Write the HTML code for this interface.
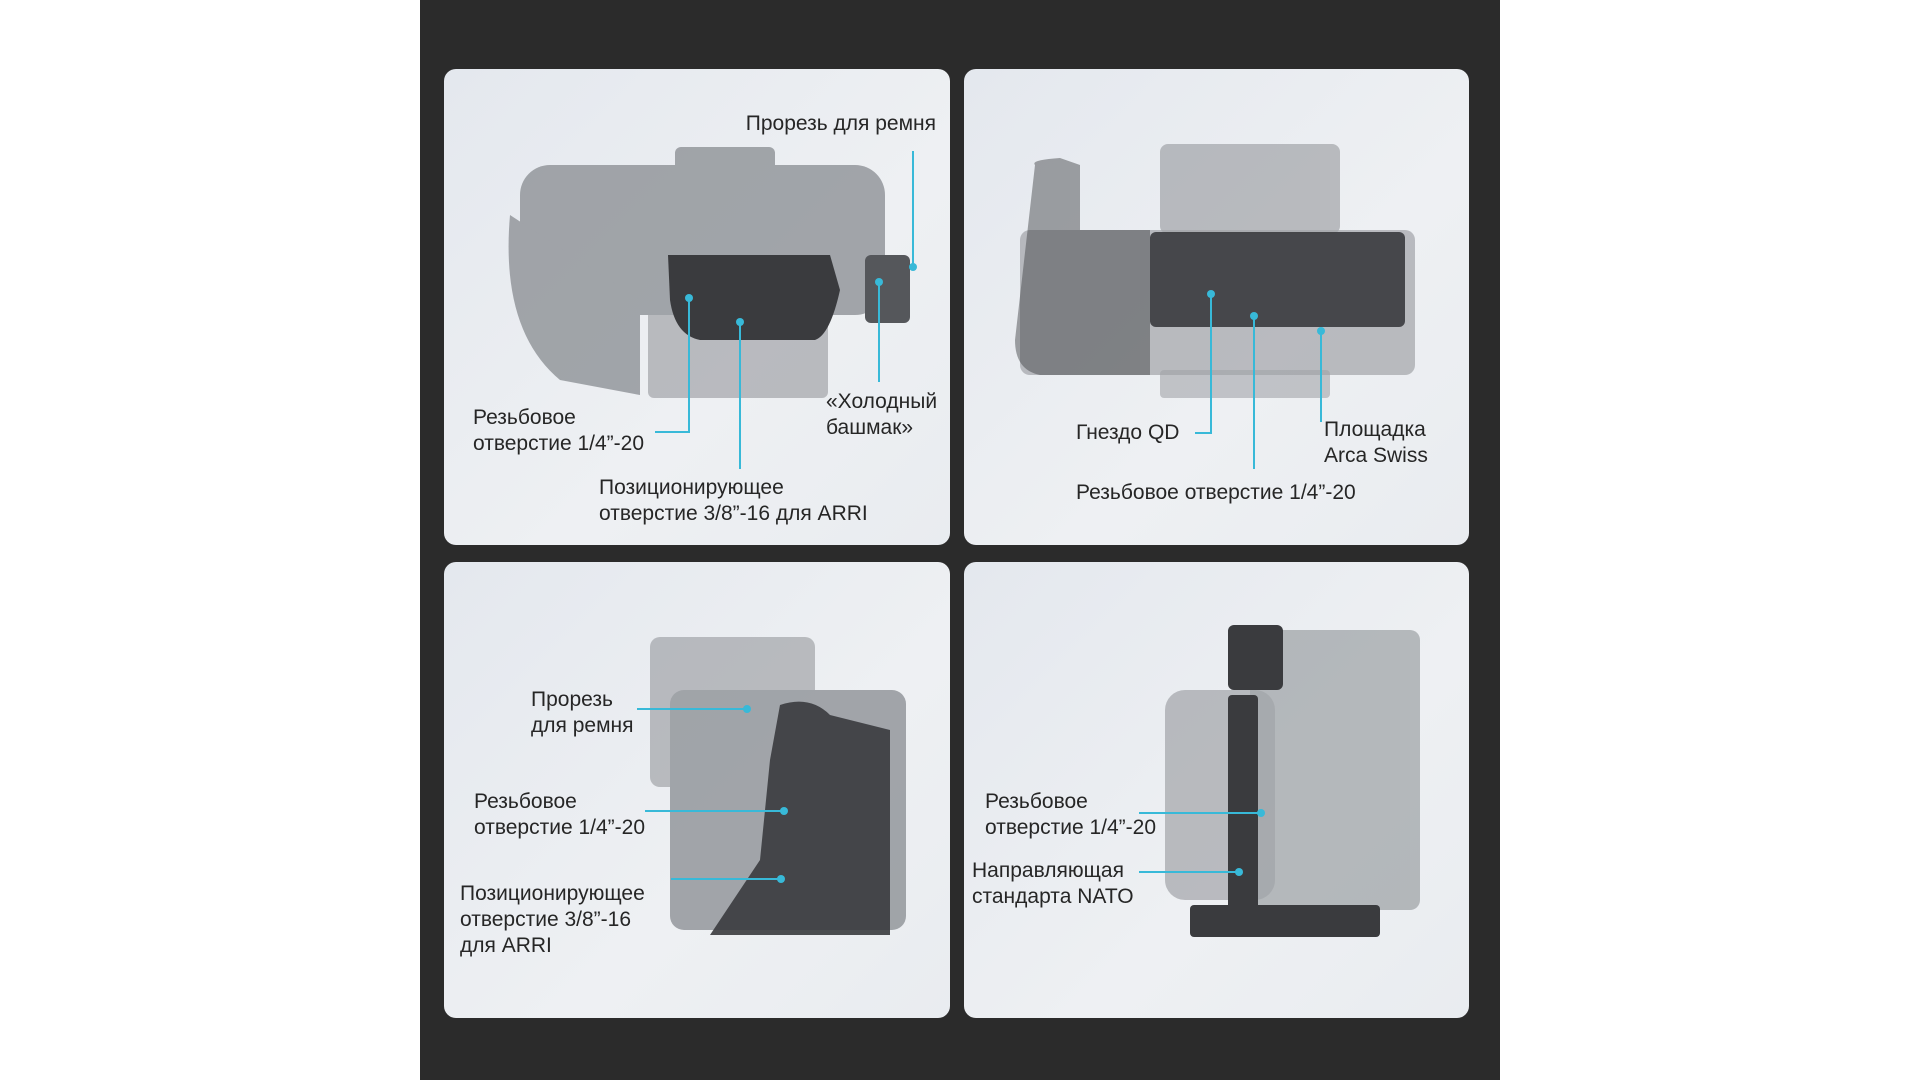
<!DOCTYPE html>
<html><head><meta charset="utf-8"><style>
body{margin:0;width:1920px;height:1080px;background:#fff;position:relative;overflow:hidden;font-family:"Liberation Sans","DejaVu Sans",sans-serif}
#panel{position:absolute;left:420px;top:0;width:1080px;height:1080px;background:#2b2b2b}
.card{position:absolute;border-radius:12px;background:linear-gradient(135deg,#e4e8ee,#eef0f3 60%,#e9ecf0)}
.t{position:absolute;font-size:21px;line-height:26px;color:#262626;white-space:nowrap}
svg{position:absolute;left:0;top:0}
</style></head><body>
<div id="panel"></div>
<div class="card" style="left:444px;top:69px;width:506px;height:476px"></div>
<div class="card" style="left:964px;top:69px;width:505px;height:476px"></div>
<div class="card" style="left:444px;top:562px;width:506px;height:456px"></div>
<div class="card" style="left:964px;top:562px;width:505px;height:456px"></div>
<svg width="1920" height="1080">
<g fill="#8e9196" opacity="0.8">
 <!-- cam1 -->
 <rect x="520" y="165" width="365" height="150" rx="30"/>
 <rect x="675" y="147" width="100" height="60" rx="6"/>
 <rect x="648" y="300" width="180" height="98" rx="6" opacity="0.7"/>
 <path d="M510 215 Q500 330 560 380 L640 395 L640 300 Z"/>
 <!-- cam2 -->
 <rect x="1160" y="144" width="180" height="90" rx="8" opacity="0.7"/>
 <rect x="1020" y="230" width="395" height="145" rx="10" opacity="0.7"/>
 <rect x="1160" y="370" width="170" height="28" rx="4" opacity="0.6"/>
 <!-- cam3 -->
 <rect x="650" y="637" width="165" height="150" rx="10" opacity="0.7"/>
 <rect x="670" y="690" width="236" height="240" rx="14"/>
 <!-- cam4 -->
 <rect x="1165" y="690" width="110" height="210" rx="20" opacity="0.7"/>
 <rect x="1250" y="630" width="170" height="280" rx="10" opacity="0.75"/>
</g>
<g fill="#3a3b3e">
 <path d="M668 255 L830 255 L840 290 Q830 335 815 340 L700 340 Q675 335 670 300 Z"/>
 <rect x="865" y="255" width="45" height="68" rx="6" fill="#55575b"/>
 <path d="M1035 165 Q1030 160 1060 158 L1080 165 L1080 230 L1150 230 L1150 375 L1040 375 Q1015 370 1015 340 Z" opacity="0.45"/>
 <rect x="1150" y="232" width="255" height="95" rx="6" opacity="0.9"/>
 <path d="M780 705 Q810 695 830 715 L890 730 L890 935 L710 935 L760 860 L770 760 Z" opacity="0.9"/>
 <rect x="1228" y="625" width="55" height="65" rx="6"/>
 <rect x="1228" y="695" width="30" height="215" rx="4"/>
 <rect x="1190" y="905" width="190" height="32" rx="4"/>
</g>
<g stroke="#38b9d8" stroke-width="2" fill="none">
 <path d="M913 151 V267"/>
 <path d="M655 432 H689 V298"/>
 <path d="M740 469 V322"/>
 <path d="M879 382 V282"/>
 <path d="M1195 433 H1211 V294"/>
 <path d="M1321 422 V331"/>
 <path d="M1254 469 V316"/>
 <path d="M637 709 H747"/>
 <path d="M645 811 H784"/>
 <path d="M671 879 H781"/>
 <path d="M1139 813 H1261"/>
 <path d="M1139 872 H1239"/>
</g>
<g fill="#38b9d8"><circle cx="689" cy="298" r="4"/><circle cx="740" cy="322" r="4"/><circle cx="879" cy="282" r="4"/><circle cx="1211" cy="294" r="4"/><circle cx="1254" cy="316" r="4"/><circle cx="1321" cy="331" r="4"/><circle cx="784" cy="811" r="4"/><circle cx="781" cy="879" r="4"/><circle cx="1261" cy="813" r="4"/><circle cx="1239" cy="872" r="4"/><circle cx="747" cy="709" r="4"/><circle cx="913" cy="267" r="4"/></g>
</svg>
<div class="t" style="right:984px;top:111px">Прорезь для ремня</div>
<div class="t" style="left:473px;top:405px">Резьбовое<br>отверстие 1/4”-20</div>
<div class="t" style="left:599px;top:475px">Позиционирующее<br>отверстие 3/8”-16 для ARRI</div>
<div class="t" style="left:826px;top:389px">«Холодный<br>башмак»</div>
<div class="t" style="left:1076px;top:420px">Гнездо QD</div>
<div class="t" style="left:1324px;top:417px">Площадка<br>Arca Swiss</div>
<div class="t" style="left:1076px;top:480px">Резьбовое отверстие 1/4”-20</div>
<div class="t" style="left:531px;top:687px">Прорезь<br>для ремня</div>
<div class="t" style="left:474px;top:789px">Резьбовое<br>отверстие 1/4”-20</div>
<div class="t" style="left:460px;top:881px">Позиционирующее<br>отверстие 3/8”-16<br>для ARRI</div>
<div class="t" style="left:985px;top:789px">Резьбовое<br>отверстие 1/4”-20</div>
<div class="t" style="left:972px;top:858px">Направляющая<br>стандарта NATO</div>
</body></html>
